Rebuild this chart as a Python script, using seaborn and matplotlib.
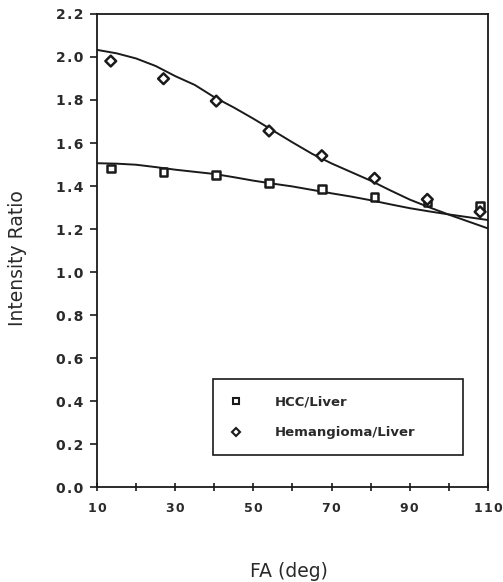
import numpy as np
import pandas as pd
import matplotlib
matplotlib.use("Agg")
import matplotlib.pyplot as plt
import seaborn as sns
from matplotlib.ticker import FixedLocator

# measured intensity ratios at each flip angle
fa_points = [13.5, 27.0, 40.5, 54.0, 67.5, 81.0, 94.5, 108.0]
hcc_ratio = [1.482, 1.464, 1.451, 1.415, 1.386, 1.350, 1.324, 1.307]
hem_ratio = [1.981, 1.899, 1.795, 1.656, 1.541, 1.436, 1.338, 1.280]

# model curves sampled along the flip-angle range
fa_curve = [10, 15, 20, 25, 30, 35, 40, 45, 50, 55, 60, 65, 70, 75, 80, 85, 90, 95, 100, 105, 110]
hcc_curve = [1.506, 1.504, 1.499, 1.488, 1.476, 1.466, 1.456, 1.441, 1.425, 1.411, 1.398, 1.382,
             1.366, 1.351, 1.334, 1.315, 1.297, 1.282, 1.268, 1.255, 1.242]
hem_curve = [2.033, 2.017, 1.993, 1.958, 1.911, 1.870, 1.813, 1.765, 1.713, 1.658, 1.603, 1.550,
             1.505, 1.465, 1.425, 1.380, 1.337, 1.301, 1.267, 1.235, 1.203]

series = ["HCC/Liver", "Hemangioma/Liver"]

x_ticks = [10, 30, 50, 70, 90, 110]
y_ticks = [0.0, 0.2, 0.4, 0.6, 0.8, 1.0, 1.2, 1.4, 1.6, 1.8, 2.0, 2.2]

points = pd.DataFrame({
    "FA": fa_points * 2,
    "ratio": hcc_ratio + hem_ratio,
    "series": [series[0]] * len(fa_points) + [series[1]] * len(fa_points),
})
curves = pd.DataFrame({
    "FA": fa_curve * 2,
    "ratio": hcc_curve + hem_curve,
    "series": [series[0]] * len(fa_curve) + [series[1]] * len(fa_curve),
})

sns.set_theme(style="ticks")
plt.rcParams["font.family"] = ["DejaVu Sans"]

fig = plt.figure(figsize=(5.03, 5.82), dpi=100)
ax = fig.add_axes([0.193, 0.163, 0.777, 0.813])

ink = "#1a1a1a"
sns.lineplot(data=curves, x="FA", y="ratio", units="series", estimator=None,
             color=ink, linewidth=1.4, legend=False, ax=ax, zorder=2)
sns.scatterplot(data=points, x="FA", y="ratio", hue="series", style="series",
                palette={series[0]: ink, series[1]: ink},
                markers={series[0]: "s", series[1]: "D"},
                s=30, linewidth=1.8, ax=ax, zorder=3)

# hollow markers
for coll in ax.collections:
    coll.set_facecolor("white")
    coll.set_edgecolor(ink)
    coll.set_linewidth(1.8)

ax.set_xlim(10, 110)
ax.set_ylim(0, 2.2)
ax.xaxis.set_major_locator(FixedLocator(x_ticks))
ax.xaxis.set_minor_locator(FixedLocator([20, 40, 60, 80, 100]))
ax.yaxis.set_major_locator(FixedLocator(y_ticks))

# slightly tracked-out tick labels
hair = "\u200a"
ax.set_xticklabels([hair.join(str(v)) for v in x_ticks])
ax.set_yticklabels([hair.join(f"{v:.1f}") for v in y_ticks])

for sp in ax.spines.values():
    sp.set_visible(True)
    sp.set_color(ink)
    sp.set_linewidth(1.3)

ax.tick_params(axis="x", which="both", direction="inout", length=6, width=1.2,
               color=ink, labelsize=9, pad=8)
ax.tick_params(axis="y", which="major", direction="out", length=5, width=1.2,
               color=ink, labelsize=10, pad=5)
for lab in ax.get_xticklabels() + ax.get_yticklabels():
    lab.set_fontweight("bold")
    lab.set_color("#2a2a2a")

ax.set_xlabel("FA (deg)", fontsize=13.5, color="#2a2a2a")
ax.set_ylabel("Intensity Ratio", fontsize=13.5, color="#2a2a2a")
ax.xaxis.set_label_coords(0.491, -0.158)
ax.yaxis.set_label_coords(-0.180, 0.484)

handles, labels = ax.get_legend_handles_labels()
for h in handles:
    h.set_markerfacecolor("white")
    h.set_markeredgecolor(ink)
    h.set_markeredgewidth(1.5)
    h.set_markersize(4.5)
leg = ax.legend(handles, labels, loc="lower left",
                bbox_to_anchor=(0.297, 0.068, 0.639, 0.161), mode="expand",
                borderaxespad=0, frameon=True, fancybox=False, edgecolor=ink,
                handlelength=1.0, handletextpad=2.5, borderpad=1.2, labelspacing=1.35,
                prop={"weight": "bold", "size": 9.5})
leg.get_frame().set_linewidth(1.2)
leg.get_frame().set_alpha(1)
for t in leg.get_texts():
    t.set_color("#2a2a2a")

fig.savefig("out.png", dpi=100, facecolor="white")
